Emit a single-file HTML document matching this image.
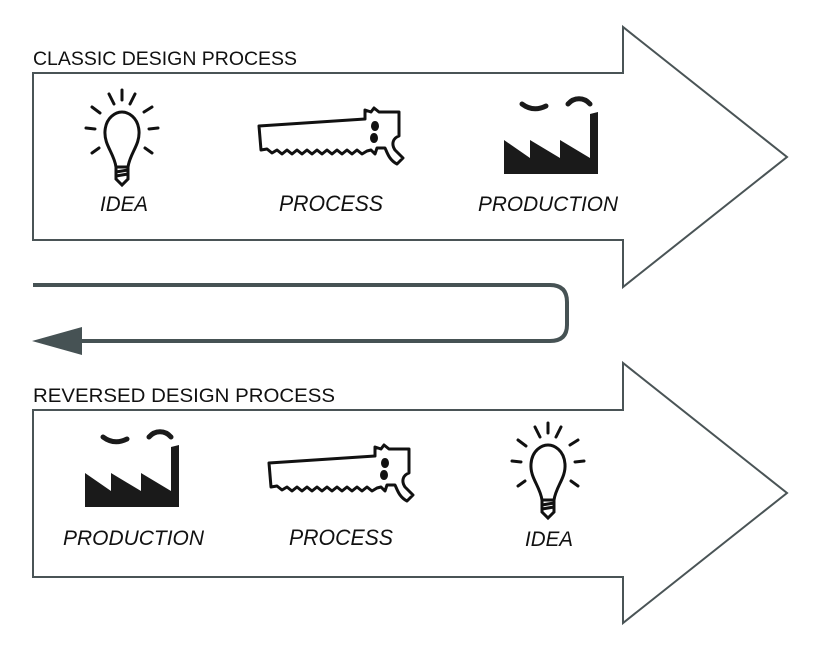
<!DOCTYPE html>
<html><head><style>
html,body{margin:0;padding:0;background:#fff;}
svg{display:block;}
.h{font-family:"Liberation Sans",sans-serif;font-size:19px;fill:#111;}
.l{font-family:"Liberation Sans",sans-serif;font-style:italic;fill:#111;}
</style></head><body>
<svg width="818" height="654" viewBox="0 0 818 654" xmlns="http://www.w3.org/2000/svg">
<defs>
<g id="bulb" fill="none" stroke="#111" stroke-width="3" stroke-linecap="round">
  <path d="M-6,22 C-8,8 -18,0 -17,-14 C-16,-28 -6,-33 0,-33 C6,-33 16,-28 17,-14 C18,0 8,8 6,22 Z"/>
  <path d="M-6,22 L-6,34 L0,40 L6,34 L6,22 M-6,27 L6,25 M-6,31 L6,29"/>
  <path d="M0,-55 L0,-45 M-13,-51 L-8,-41 M13,-51 L8,-41 M-30,-38 L-22,-32 M30,-38 L22,-33 M-36,-17 L-27,-16 M36,-17 L27,-16 M-30,8 L-23,3 M30,8 L23,3"/>
</g>
<g id="saw" fill="none" stroke="#111" stroke-width="3" stroke-linejoin="round">
  <path d="M2,20 L108,13 L108,4 L114,6 L117,2 L122,6 L142,6 L142,30 C136,32 134,38 138,44 L146,52 L140,58 C132,54 130,46 128,42 L120,42 L118,48 L114,44 L110,45 L105,48 L100,44 L95,48 L90,44 L85,48 L80,44 L75,48 L70,44 L65,48 L60,44 L55,48 L50,44 L45,48 L40,44 L35,48 L30,44 L25,48 L20,44 L15,47 L10,43 L4,44 L2,20 Z"/>
  <ellipse cx="118" cy="20" rx="2.5" ry="3.5" fill="#111"/>
  <ellipse cx="117" cy="32" rx="2.5" ry="3.5" fill="#111"/>
</g>
<g id="fac">
  <path d="M2,45 L2,38 L28,56 L28,38 L58,56 L58,38 L88,56 L88,12 L96,10 L96,72 L2,72 Z" fill="#1a1a1a"/>
  <path d="M20,2 C28,8 36,8 44,4 M66,2 C72,-5 82,-5 88,2" fill="none" stroke="#1a1a1a" stroke-width="5" stroke-linecap="round"/>
</g>
</defs>
<polygon points="33,73 623,73 623,27 787,157 623,287 623,240 33,240" fill="#fff" stroke="#4a5456" stroke-width="2"/>
<polygon points="33,410 623,410 623,363 787,493 623,623 623,577 33,577" fill="#fff" stroke="#4a5456" stroke-width="2"/>
<text class="h" x="33" y="65" textLength="264" lengthAdjust="spacingAndGlyphs">CLASSIC DESIGN PROCESS</text>
<text class="h" x="33" y="402" textLength="302" lengthAdjust="spacingAndGlyphs">REVERSED DESIGN PROCESS</text>
<path d="M33,285 L550,285 Q567,285 567,302 L567,325 Q567,341 550,341 L80,341" fill="none" stroke="#465254" stroke-width="4"/>
<polygon points="32,341 82,327 82,355" fill="#465254"/>
<use href="#bulb" transform="translate(122,145)"/>
<use href="#saw" transform="translate(257,106)"/>
<use href="#fac" transform="translate(502,102)"/>
<text class="l" x="100" y="211" font-size="21" textLength="48" lengthAdjust="spacingAndGlyphs">IDEA</text>
<text class="l" x="279" y="211" font-size="22" textLength="104" lengthAdjust="spacingAndGlyphs">PROCESS</text>
<text class="l" x="478" y="211" font-size="21" textLength="140" lengthAdjust="spacingAndGlyphs">PRODUCTION</text>
<use href="#fac" transform="translate(83,435)"/>
<use href="#saw" transform="translate(267,443)"/>
<use href="#bulb" transform="translate(548,478)"/>
<text class="l" x="63" y="545" font-size="21" textLength="141" lengthAdjust="spacingAndGlyphs">PRODUCTION</text>
<text class="l" x="289" y="545" font-size="22" textLength="104" lengthAdjust="spacingAndGlyphs">PROCESS</text>
<text class="l" x="525" y="546" font-size="21" textLength="48" lengthAdjust="spacingAndGlyphs">IDEA</text>
</svg>
</body></html>
